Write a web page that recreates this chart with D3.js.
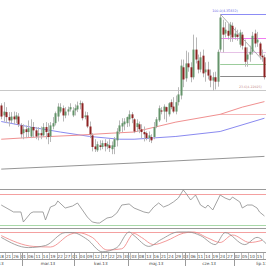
<!DOCTYPE html>
<html>
<head>
<meta charset="utf-8">
<script src="https://cdn.jsdelivr.net/npm/d3@7"></script>
<style>
  html, body { margin: 0; padding: 0; background: #fff; }
  svg { display: block; font-family: "DejaVu Sans", sans-serif; }
</style>
</head>
<body>
<svg id="chart" width="266" height="266"></svg>
<script>
// Daily candles (price), first visible candle 2013-02-18
const opens  = [4.193,4.175,4.181,4.172,4.166,4.173,4.168,4.173,4.157,4.143,4.150,4.145,4.137,4.154,4.148,4.139,4.143,4.139,4.154,4.143,
                4.137,4.155,4.161,4.173,4.182,4.188,4.175,4.182,4.186,4.175,4.184,4.186,4.195,4.197,4.172,4.175,4.155,4.139,4.119,4.112,
                4.121,4.118,4.125,4.119,4.121,4.114,4.118,4.130,4.146,4.155,4.159,4.161,4.168,4.177,4.168,4.154,4.159,4.150,4.145,4.143,
                4.134,4.136,4.136,4.155,4.166,4.184,4.182,4.190,4.177,4.199,4.191,4.182,4.199,4.211,4.262,4.242,4.269,4.262,4.244,4.294,
                4.274,4.258,4.283,4.253,4.258,4.247,4.238,4.244,4.236,4.294,4.334,4.323,4.328,4.321,4.337,4.317,4.321,4.303,4.321,4.298,
                4.276,4.285,4.290,4.323,4.307,4.305,4.283,4.280];
const highs  = [4.197,4.199,4.190,4.181,4.181,4.182,4.181,4.179,4.161,4.159,4.157,4.166,4.168,4.163,4.154,4.154,4.155,4.161,4.163,4.161,
                4.163,4.172,4.182,4.197,4.197,4.193,4.190,4.191,4.197,4.190,4.195,4.200,4.202,4.200,4.182,4.181,4.164,4.143,4.132,4.128,
                4.130,4.130,4.132,4.128,4.132,4.128,4.136,4.152,4.166,4.170,4.170,4.173,4.184,4.181,4.170,4.168,4.164,4.159,4.155,4.146,
                4.146,4.141,4.163,4.172,4.193,4.190,4.195,4.191,4.199,4.204,4.208,4.211,4.226,4.276,4.276,4.292,4.289,4.271,4.321,4.316,
                4.285,4.290,4.294,4.271,4.272,4.258,4.253,4.254,4.294,4.3583,4.348,4.344,4.341,4.344,4.343,4.334,4.330,4.330,4.326,4.312,
                4.298,4.301,4.326,4.330,4.326,4.308,4.294,4.285];
const lows   = [4.168,4.164,4.161,4.155,4.161,4.159,4.161,4.154,4.134,4.132,4.134,4.136,4.134,4.136,4.132,4.130,4.132,4.136,4.132,4.123,
                4.127,4.150,4.157,4.164,4.179,4.164,4.170,4.175,4.182,4.172,4.175,4.181,4.186,4.166,4.168,4.152,4.134,4.110,4.109,4.109,
                4.112,4.114,4.110,4.114,4.109,4.105,4.105,4.119,4.141,4.145,4.148,4.154,4.155,4.161,4.143,4.145,4.143,4.134,4.128,4.130,
                4.127,4.125,4.132,4.152,4.163,4.177,4.168,4.163,4.173,4.186,4.179,4.177,4.193,4.204,4.226,4.236,4.254,4.235,4.240,4.269,
                4.251,4.253,4.244,4.236,4.240,4.226,4.220,4.222,4.227,4.290,4.289,4.316,4.312,4.308,4.308,4.312,4.310,4.298,4.294,4.263,
                4.263,4.272,4.285,4.298,4.299,4.276,4.272,4.240];
const closes = [4.173,4.182,4.172,4.166,4.173,4.168,4.175,4.159,4.141,4.150,4.145,4.152,4.154,4.148,4.137,4.143,4.139,4.154,4.145,4.136,
                4.157,4.161,4.179,4.191,4.190,4.175,4.182,4.186,4.190,4.184,4.188,4.193,4.197,4.170,4.175,4.155,4.141,4.118,4.114,4.123,
                4.118,4.125,4.119,4.123,4.116,4.121,4.132,4.146,4.157,4.161,4.164,4.172,4.177,4.170,4.146,4.161,4.150,4.145,4.141,4.134,
                4.139,4.130,4.154,4.168,4.188,4.182,4.191,4.182,4.197,4.190,4.182,4.199,4.213,4.265,4.240,4.269,4.262,4.244,4.294,4.276,
                4.258,4.280,4.251,4.258,4.247,4.238,4.244,4.236,4.290,4.352,4.321,4.330,4.319,4.339,4.316,4.323,4.317,4.325,4.301,4.272,
                4.285,4.290,4.319,4.305,4.312,4.283,4.280,4.244];

// Moving averages, read at candle indices
const maFast = [[0,4.164],[12,4.154],[24,4.145],[36,4.137],[48,4.132],[54,4.132],[71,4.137],[89,4.146],[107,4.170]];
const maMid  = [[0,4.132],[15,4.136],[30,4.139],[45,4.143],[54,4.145],[71,4.163],[89,4.177],[98,4.190],[107,4.200]];
const maSlow = [[0,4.078],[54,4.089],[107,4.101]];

// Fibonacci retracement
const fibLevels = [100, 76.4, 61.8, 50, 38.2, 23.6, 0];
const fibHigh = 4.35832, fibLow = 4.17760;
const fibStart = 89;

// trend line anchors [index, price]
const trend = [[89, 4.3583], [106, 4.276]];

// RSI read at candle indices
const rsi = [[0,55.8],[5,46.8],[8,46.8],[9,33.9],[12,45.5],[13,46.8],[17,46.8],[18,36.5],[20,53.2],[22,55.8],[23,61.0],
             [26,51.9],[29,54.5],[31,58.4],[33,49.4],[35,40.3],[37,33.9],[39,32.6],[40,32.6],[43,39.0],[45,40.3],[47,45.5],
             [49,55.8],[52,57.1],[54,51.9],[58,46.8],[60,45.5],[62,53.2],[64,58.4],[66,53.2],[68,55.8],[70,59.7],[72,64.8],
             [74,75.2],[75,71.3],[77,62.3],[79,68.7],[81,55.8],[83,51.9],[84,55.8],[86,49.4],[88,62.3],[89,68.7],[91,64.8],
             [93,62.3],[94,66.1],[97,59.7],[98,51.9],[100,55.8],[102,55.8],[104,51.9],[105,46.8],[107,41.6]];

// Stochastic %K and %D
const stochK = [[0,62],[11,28],[18,35],[26,78],[29,78],[35,55],[41,14],[47,28],[52,80],[54,68],[60,32],[65,55],
                [72,80],[76,80],[81,68],[87,38],[91,78],[99,38],[104,62],[108,38]];
const stochD = [[0,68],[13,32],[20,30],[28,72],[31,78],[37,62],[43,20],[49,24],[54,75],[57,62],[62,38],[67,50],
                [74,76],[78,80],[84,60],[89,45],[94,70],[101,45],[106,52]];

const monthNames = ["sty","lut","mar","kwi","maj","cze","lip","sie","wrz","paź","lis","gru"];

// ---- layout
const W = 266;
const step = 2.46;
// the axis covers whole months, the view starts at 2013-02-18
const days = d3.timeDay.range(new Date(2013, 1, 1), new Date(2013, 7, 1)).filter(d => d.getDay() % 6 !== 0);
const first = days.findIndex(d => +d === +new Date(2013, 1, 18));

const svg = d3.select("#chart");
svg.append("rect").attr("width", W).attr("height", 266).attr("fill", "#fff");

const x = d3.scaleLinear().domain([0, 1]).range([0, step]);
const cx = i => x(i + 0.5);

const y = d3.scaleLinear().domain([fibLow, fibHigh]).range([114, 14]);

svg.append("clipPath").attr("id", "mainClip").append("rect").attr("width", W).attr("height", 188);
const main = svg.append("g").attr("clip-path", "url(#mainClip)");

// fib lines
const fibColors = {100: "#8c8cf5", 76.4: "#f07cf0", 61.8: "#e6c2e6", 50: "#9ccc9c", 38.2: "#8a8a8a", 23.6: "#c8c8c8", 0: "#f5b8b8"};
fibLevels.forEach(l => {
  const p = fibLow + (fibHigh - fibLow) * l / 100;
  main.append("line")
    .attr("x1", l === 23.6 ? 0 : cx(fibStart)).attr("x2", W)
    .attr("y1", Math.round(y(p)) + 0.5).attr("y2", Math.round(y(p)) + 0.5)
    .attr("stroke", fibColors[l]).attr("stroke-width", 1);
});
main.append("text").attr("x", cx(fibStart) - 8).attr("y", y(fibHigh) - 2)
  .attr("font-size", 3.3).attr("fill", "#6a6ae6").text("100.0(4.35832)");
main.append("text").attr("x", 239).attr("y", y(fibLow + (fibHigh - fibLow) * 0.236) - 2)
  .attr("font-size", 3.2).attr("fill", "#c89090").text("23.6(4.22025)");

// moving averages
const line = d3.line().x(d => cx(d[0])).y(d => y(d[1]));
[[maSlow, "#7a7a7a", 0.8], [maFast, "#8a8af0", 1], [maMid, "#f09090", 1]].forEach(([d, c, w]) => {
  main.append("path").datum(d).attr("d", line).attr("fill", "none").attr("stroke", c).attr("stroke-width", w);
});

// trend line
main.append("path").datum(trend).attr("d", line).attr("fill", "none").attr("stroke", "#9a9a9a").attr("stroke-width", 0.8);

// candles
const idx = d3.range(opens.length);
main.selectAll(".wick").data(idx).join("line")
  .attr("x1", i => Math.round(cx(i)) + 0.5).attr("x2", i => Math.round(cx(i)) + 0.5)
  .attr("y1", i => y(highs[i])).attr("y2", i => y(lows[i]))
  .attr("stroke", "#b8b8b8").attr("stroke-width", 1);
main.selectAll(".body").data(idx).join("rect")
  .attr("x", i => Math.round(cx(i)) - 0.5).attr("width", 2)
  .attr("y", i => y(Math.max(opens[i], closes[i])))
  .attr("height", i => Math.max(1, Math.abs(y(opens[i]) - y(closes[i]))))
  .attr("fill", i => closes[i] >= opens[i] ? "#64946a" : "#8e2222");

// panel borders
[189, 228, 252, 259].forEach(v => {
  svg.append("line").attr("x1", 0).attr("x2", W).attr("y1", v + 0.5).attr("y2", v + 0.5)
    .attr("stroke", "#9a9a9a").attr("stroke-width", 1);
});

// RSI panel
const yr = d3.scaleLinear().domain([30, 70]).range([225, 194]);
svg.append("line").attr("x1", 0).attr("x2", W).attr("y1", yr(70) + 0.5).attr("y2", yr(70) + 0.5).attr("stroke", "#f4a0a0");
svg.append("line").attr("x1", 0).attr("x2", W).attr("y1", yr(30) + 0.5).attr("y2", yr(30) + 0.5).attr("stroke", "#a8d8a8");
svg.append("path").datum(rsi).attr("d", d3.line().x(d => cx(d[0])).y(d => yr(d[1])))
  .attr("fill", "none").attr("stroke", "#8c8c8c").attr("stroke-width", 0.8);

// stochastic panel
const ys = d3.scaleLinear().domain([20, 80]).range([250, 232]);
svg.append("line").attr("x1", 0).attr("x2", W).attr("y1", ys(80) + 0.5).attr("y2", ys(80) + 0.5).attr("stroke", "#f4a0a0");
const sl = d3.line().curve(d3.curveMonotoneX).x(d => cx(d[0])).y(d => ys(d[1]));
svg.append("path").datum(stochD).attr("d", sl).attr("fill", "none").attr("stroke", "#f08080").attr("stroke-width", 0.8);
svg.append("path").datum(stochK).attr("d", sl).attr("fill", "none").attr("stroke", "#8c8c8c").attr("stroke-width", 0.8);

// date axis: day row and month row (positions relative to the first visible candle)
const axis = svg.append("g").attr("font-size", 4.2).attr("fill", "#444").attr("text-anchor", "middle");
const dayTicks = days.map((d, j) => [d, j - first])
  .filter(e => e[1] % 3 === 0 && e[1] >= 0 && cx(e[1]) + 3 <= W);
dayTicks.forEach(([d, i]) => {
  axis.append("text").attr("x", cx(i)).attr("y", 257.5).text(d3.timeFormat("%d")(d));
  axis.append("line").attr("x1", Math.round(cx(i + 1.5)) + 0.5).attr("x2", Math.round(cx(i + 1.5)) + 0.5)
    .attr("y1", 253).attr("y2", 259).attr("stroke", "#c0c0c0");
});
const months = d3.groups(days.map((d, j) => [d, j - first]), e => e[0].getMonth());
months.forEach(([m, list]) => {
  const i0 = list[0][1], i1 = list[list.length - 1][1];
  axis.append("line").attr("x1", Math.round(x(i0)) + 0.5).attr("x2", Math.round(x(i0)) + 0.5)
    .attr("y1", 253).attr("y2", 266).attr("stroke", "#9a9a9a");
  axis.append("text").attr("x", (cx(i0) + cx(i1)) / 2).attr("y", 264.5).text(monthNames[m] + ".13");
});
</script>
</body>
</html>
